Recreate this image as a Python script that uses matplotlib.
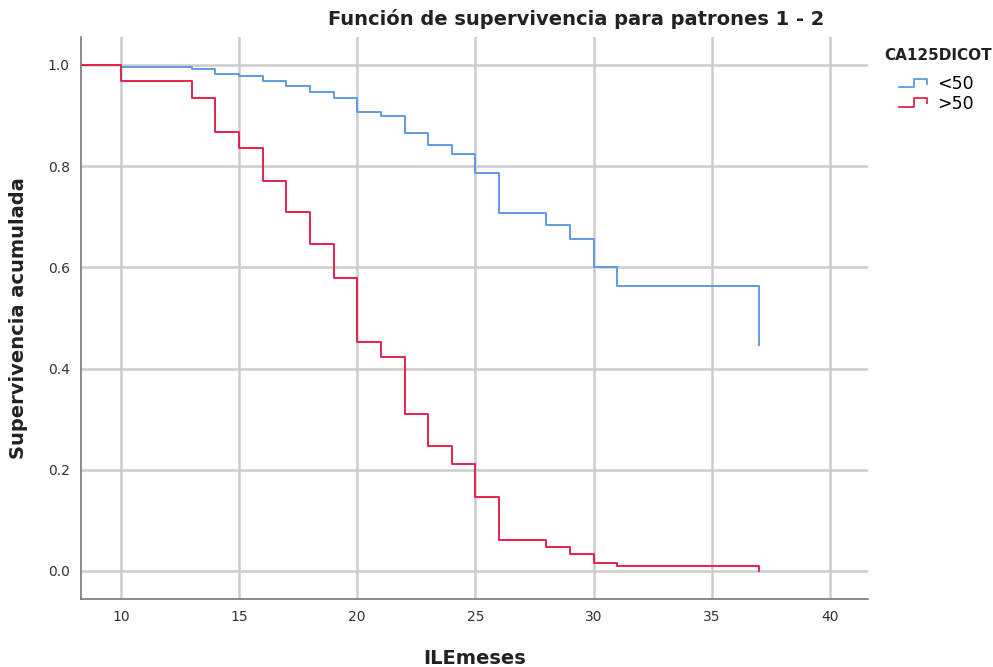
import matplotlib
matplotlib.use("Agg")
import matplotlib.pyplot as plt
from matplotlib.legend_handler import HandlerBase
from matplotlib.lines import Line2D

# Kaplan-Meier estimates
times_lt50 = [0, 10, 13, 14, 15, 16, 17, 18, 19, 20, 21, 22, 23, 24, 25, 26, 28, 29, 30, 31, 37]
surv_lt50 = [1.0, 0.997, 0.992, 0.982, 0.978, 0.968, 0.958, 0.947, 0.934, 0.907, 0.899,
             0.865, 0.841, 0.825, 0.787, 0.707, 0.684, 0.657, 0.600, 0.563, 0.447]
times_gt50 = [0, 10, 13, 14, 15, 16, 17, 18, 19, 20, 21, 22, 23, 24, 25, 26, 28, 29, 30, 31, 37]
surv_gt50 = [1.0, 0.968, 0.935, 0.868, 0.835, 0.771, 0.709, 0.646, 0.580, 0.453, 0.423,
             0.310, 0.248, 0.212, 0.146, 0.061, 0.047, 0.034, 0.016, 0.010, 0.0]

groups = ["<50", ">50"]
colors = ["#5e9be6", "#e3234f"]
xticks = [10, 15, 20, 25, 30, 35, 40]
yticks = [0.0, 0.2, 0.4, 0.6, 0.8, 1.0]


class StepHandler(HandlerBase):
    def create_artists(self, legend, orig, xd, yd, w, h, fontsize, trans):
        xs = [xd, xd + w * 0.55, xd + w * 0.55, xd + w, xd + w]
        ys = [yd + h * 0.15, yd + h * 0.15, yd + h * 0.85, yd + h * 0.85, yd + h * 0.45]
        ln = Line2D(xs, ys, color=orig.get_color(), lw=1.3, transform=trans)
        return [ln]


fig = plt.figure(figsize=(9.93, 6.67), dpi=100)
ax = fig.add_axes([0.0816, 0.102, 0.7925, 0.8425])

ax.step(times_lt50, surv_lt50, where="post", color=colors[0], lw=1.4, label=groups[0])
ax.step(times_gt50, surv_gt50, where="post", color=colors[1], lw=1.4, label=groups[1])

ax.set_xlim(8.32, 41.6)
ax.set_ylim(-0.0553, 1.0553)
ax.set_xticks(xticks)
ax.set_yticks(yticks)
ax.set_yticklabels([f"{v:.1f}" for v in yticks])
ax.tick_params(length=0, labelsize=10, colors="#333333", pad=8)
ax.grid(True, color="#cccccc", lw=1.8)
ax.set_axisbelow(True)
for s in ["top", "right"]:
    ax.spines[s].set_visible(False)
for s in ["left", "bottom"]:
    ax.spines[s].set_color("#777777")
    ax.spines[s].set_linewidth(1.2)

ax.set_xlabel("ILEmeses", fontsize=14, fontweight="bold", color="#222222", labelpad=18)
ax.set_ylabel("Supervivencia acumulada", fontsize=14, fontweight="bold", color="#222222", labelpad=14)
fig.text(0.58, 0.972, "Función de supervivencia para patrones 1 - 2", ha="center", va="center",
         fontsize=14, fontweight="bold", color="#222222")

# legend title and entries
fig.text(884 / 993, 1 - 55 / 667, "CA125DICOT", ha="left", va="center",
         fontsize=11, fontweight="bold", color="#222222")
leg = fig.legend(handler_map={Line2D: StepHandler()}, loc="upper left",
                 bbox_to_anchor=(899 / 993, 1 - 75 / 667), frameon=False, fontsize=12.5,
                 handlelength=1.6, handletextpad=0.6,
                 labelspacing=0.1, borderaxespad=0.0, borderpad=0.0)

fig.savefig("out.png", dpi=100)
